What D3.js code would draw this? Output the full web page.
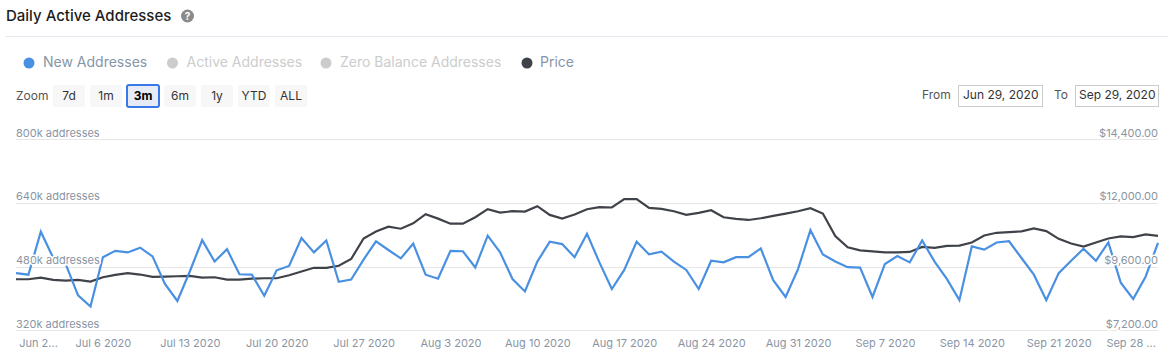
<!DOCTYPE html>
<html>
<head>
<title>Daily Active Addresses</title>
<script src="https://d3js.org/d3.v7.min.js"></script>
<style>
    body { margin: 0; background: #fff; }
    svg { display: block; font-family: Inter, sans-serif; }
    .grid path { stroke: none; }
    .grid line { stroke: #e6e6e6; shape-rendering: crispEdges; }
    .labels path, .labels line { stroke: none; }
    .labels text { fill: #8a95a3; font-size: 11px; font-family: Inter, sans-serif; stroke: #fff; stroke-width: 3px; paint-order: stroke; }
    .x path, .x line { stroke: none; }
    .x text { fill: #8a95a3; font-size: 11px; font-family: Inter, sans-serif; }
    .legend text { font-size: 14px; }
    .btn text { font-size: 12px; fill: #333; text-anchor: middle; }
    .range text { font-size: 12px; fill: #333; }
</style>
</head>
<body>
<svg id="chart" width="1174" height="363"></svg>
<script>
// values, one per day from Jun 29 2020
var newAddresses = [465, 461, 569, 503, 488, 409, 381, 505, 521, 517, 529, 507, 438, 395, 469, 548, 494, 525, 462, 461, 408, 472, 483, 553,
    517, 547, 443, 449, 499, 545, 523, 502, 539, 461, 451, 521, 520, 479, 559, 517, 450, 419, 494, 544, 538, 505, 564,
    492, 425, 473, 544, 512, 519, 494, 473, 425, 496, 492, 505, 505, 527, 447, 405, 475, 573, 512, 494, 480, 479, 405,
    488, 508, 492, 547, 494, 450, 397, 532, 524, 542, 545, 503, 461, 397, 465, 496, 526, 496, 542, 441, 400, 456, 541];
var price = [9143, 9143, 9206, 9117, 9092, 9117, 9054, 9219, 9308, 9371, 9321, 9232, 9244, 9257, 9270, 9206, 9219, 9130, 9130, 9168, 9181, 9181, 9295, 9435,
    9575, 9575, 9651, 9905, 10680, 10946, 11124, 11048, 11251, 11594, 11429, 11238, 11238, 11480, 11784, 11657, 11708, 11696, 11899, 11569, 11429, 11581, 11784,
    11861, 11848, 12165, 12165, 11835, 11797, 11708, 11569, 11645, 11746, 11480, 11416, 11378, 11442, 11530, 11619, 11708, 11823, 11619, 10768, 10349, 10235, 10197,
    10159, 10159, 10172, 10362, 10324, 10400, 10413, 10527, 10794, 10895, 10921, 10946, 11061, 10959, 10667, 10489, 10375, 10527, 10680, 10756, 10730, 10832, 10781];
var leftTicks = [320, 480, 640, 800];
var rightTicks = [7200, 9600, 12000, 14400];
var xTicks = ["2020-06-29", "2020-07-06", "2020-07-13", "2020-07-20", "2020-07-27", "2020-08-03", "2020-08-10",
    "2020-08-17", "2020-08-24", "2020-08-31", "2020-09-07", "2020-09-14", "2020-09-21", "2020-09-28"];
var legendNames = ["New Addresses", "Active Addresses", "Zero Balance Addresses", "Price"];
var zoomNames = ["7d", "1m", "3m", "6m", "1y", "YTD", "ALL"];

var margin = {top: 139, right: 16, bottom: 33, left: 16};
var width = 1174 - margin.left - margin.right,
    height = 363 - margin.top - margin.bottom;

var parse = d3.timeParse("%Y-%m-%d");
var start = parse(xTicks[0]);
var days = newAddresses.map(function (d, i) { return d3.timeDay.offset(start, i); });

var svg = d3.select("#chart");

// header
svg.append("text").attr("x", 6).attr("y", 21).text("Daily Active Addresses")
    .style("font-size", "15px").style("font-weight", 500).style("fill", "#1c1c1c");
svg.append("circle").attr("cx", 187.5).attr("cy", 16).attr("r", 6.5).style("fill", "#8a8a8a");
svg.append("text").attr("x", 187.5).attr("y", 20).text("?").attr("text-anchor", "middle")
    .style("font-size", "10px").style("font-weight", 700).style("fill", "#fff");
svg.append("line").attr("x1", 6).attr("x2", 1168).attr("y1", 36.5).attr("y2", 36.5).style("stroke", "#e3e8ee");

// legend
var legendX = [29, 172.5, 326, 527];
var legendDot = ["#4a90e2", "#cccccc", "#cccccc", "#3f4349"];
var legendText = ["#8696a7", "#cccccc", "#cccccc", "#8696a7"];
var legend = svg.append("g").attr("class", "legend");
legendNames.forEach(function (name, i) {
    legend.append("circle").attr("cx", legendX[i]).attr("cy", 63).attr("r", 5.5).style("fill", legendDot[i]);
    legend.append("text").attr("x", legendX[i] + (i == 3 ? 13 : 14)).attr("y", 67).text(name).style("fill", legendText[i]);
});

// zoom buttons
svg.append("text").attr("x", 16).attr("y", 100).text("Zoom").style("font-size", "12px").style("fill", "#555");
var btnX = [53, 90, 127, 164, 201, 238, 275];
var btn = svg.append("g").attr("class", "btn");
zoomNames.forEach(function (name, i) {
    var on = name == "3m";
    btn.append("rect").attr("x", btnX[i]).attr("y", 85).attr("width", 32).attr("height", 22).attr("rx", 2)
        .style("fill", on ? "#e6ebf5" : "#f7f7f7")
        .style("stroke", on ? "#3b78e7" : "none").style("stroke-width", 2);
    btn.append("text").attr("x", btnX[i] + 16).attr("y", 99.5).text(name)
        .style("font-weight", on ? 700 : 400).style("fill", on ? "#000" : "#333");
});

// date range
var range = svg.append("g").attr("class", "range");
range.append("text").attr("x", 922).attr("y", 99).text("From").style("fill", "#555");
range.append("rect").attr("x", 958.5).attr("y", 85.5).attr("width", 84).attr("height", 21).style("fill", "#fff").style("stroke", "#ccc");
range.append("text").attr("x", 963).attr("y", 99).text("Jun 29, 2020");
range.append("text").attr("x", 1054).attr("y", 99).text("To").style("fill", "#555");
range.append("rect").attr("x", 1075.5).attr("y", 85.5).attr("width", 83).attr("height", 21).style("fill", "#fff").style("stroke", "#ccc");
range.append("text").attr("x", 1079).attr("y", 99).text("Sep 29, 2020");

var g = svg.append("g").attr("transform", "translate(" + margin.left + "," + margin.top + ")");

var x = d3.scaleTime().domain([start, days[days.length - 1]]).range([0, width]);
var yNew = d3.scaleLinear().domain([320, 800]).range([height + 0.8, 0.8]);
var yPrice = d3.scaleLinear().domain([7200, 14400]).range([height + 0.8, 0.8]);

g.append("g").attr("class", "grid")
    .call(d3.axisLeft(yNew).tickValues(leftTicks).tickSize(-width).tickFormat("").offset(0));

var priceLine = d3.line().x(function (d, i) { return x(days[i]); }).y(function (d) { return yPrice(d); });
var newLine = d3.line().x(function (d, i) { return x(days[i]); }).y(function (d) { return yNew(d); });

g.append("path").datum(price).attr("d", priceLine)
    .style("fill", "none").style("stroke", "#3f4349").style("stroke-width", 2.2);
g.append("path").datum(newAddresses).attr("d", newLine)
    .style("fill", "none").style("stroke", "#4a90e2").style("stroke-width", 2.2);

// axis labels sit inside the plot, on top of the lines
var left = g.append("g").attr("class", "labels")
    .call(d3.axisLeft(yNew).tickValues(leftTicks).tickSize(0).tickFormat(function (d) { return d + "k addresses"; }));
left.selectAll("text").attr("x", 0).attr("dy", "-3.5px").style("text-anchor", "start");

var right = g.append("g").attr("class", "labels").attr("transform", "translate(" + width + ",0)")
    .call(d3.axisRight(yPrice).tickValues(rightTicks).tickSize(0).tickFormat(d3.format("$,.2f")));
right.selectAll("text").attr("x", 0).attr("dy", "-3.5px").style("text-anchor", "end");

var timeFmt = d3.timeFormat("%b %-d %Y");
var xAxis = g.append("g").attr("class", "x").attr("transform", "translate(0," + height + ")")
    .call(d3.axisBottom(x).tickValues(xTicks.map(parse)).tickSize(0).tickPadding(9).tickFormat(function (d, i) {
        if (i == 0) return "Jun 2...";
        if (i == xTicks.length - 1) return "Sep 28 ...";
        return timeFmt(d);
    }));
// first and last labels get pushed in so they stay in the plot
xAxis.selectAll("text").attr("dx", function (d, i) {
    if (i == 0) return 22;
    if (i == xTicks.length - 1) return -15;
    return 0;
});
</script>
</body>
</html>
